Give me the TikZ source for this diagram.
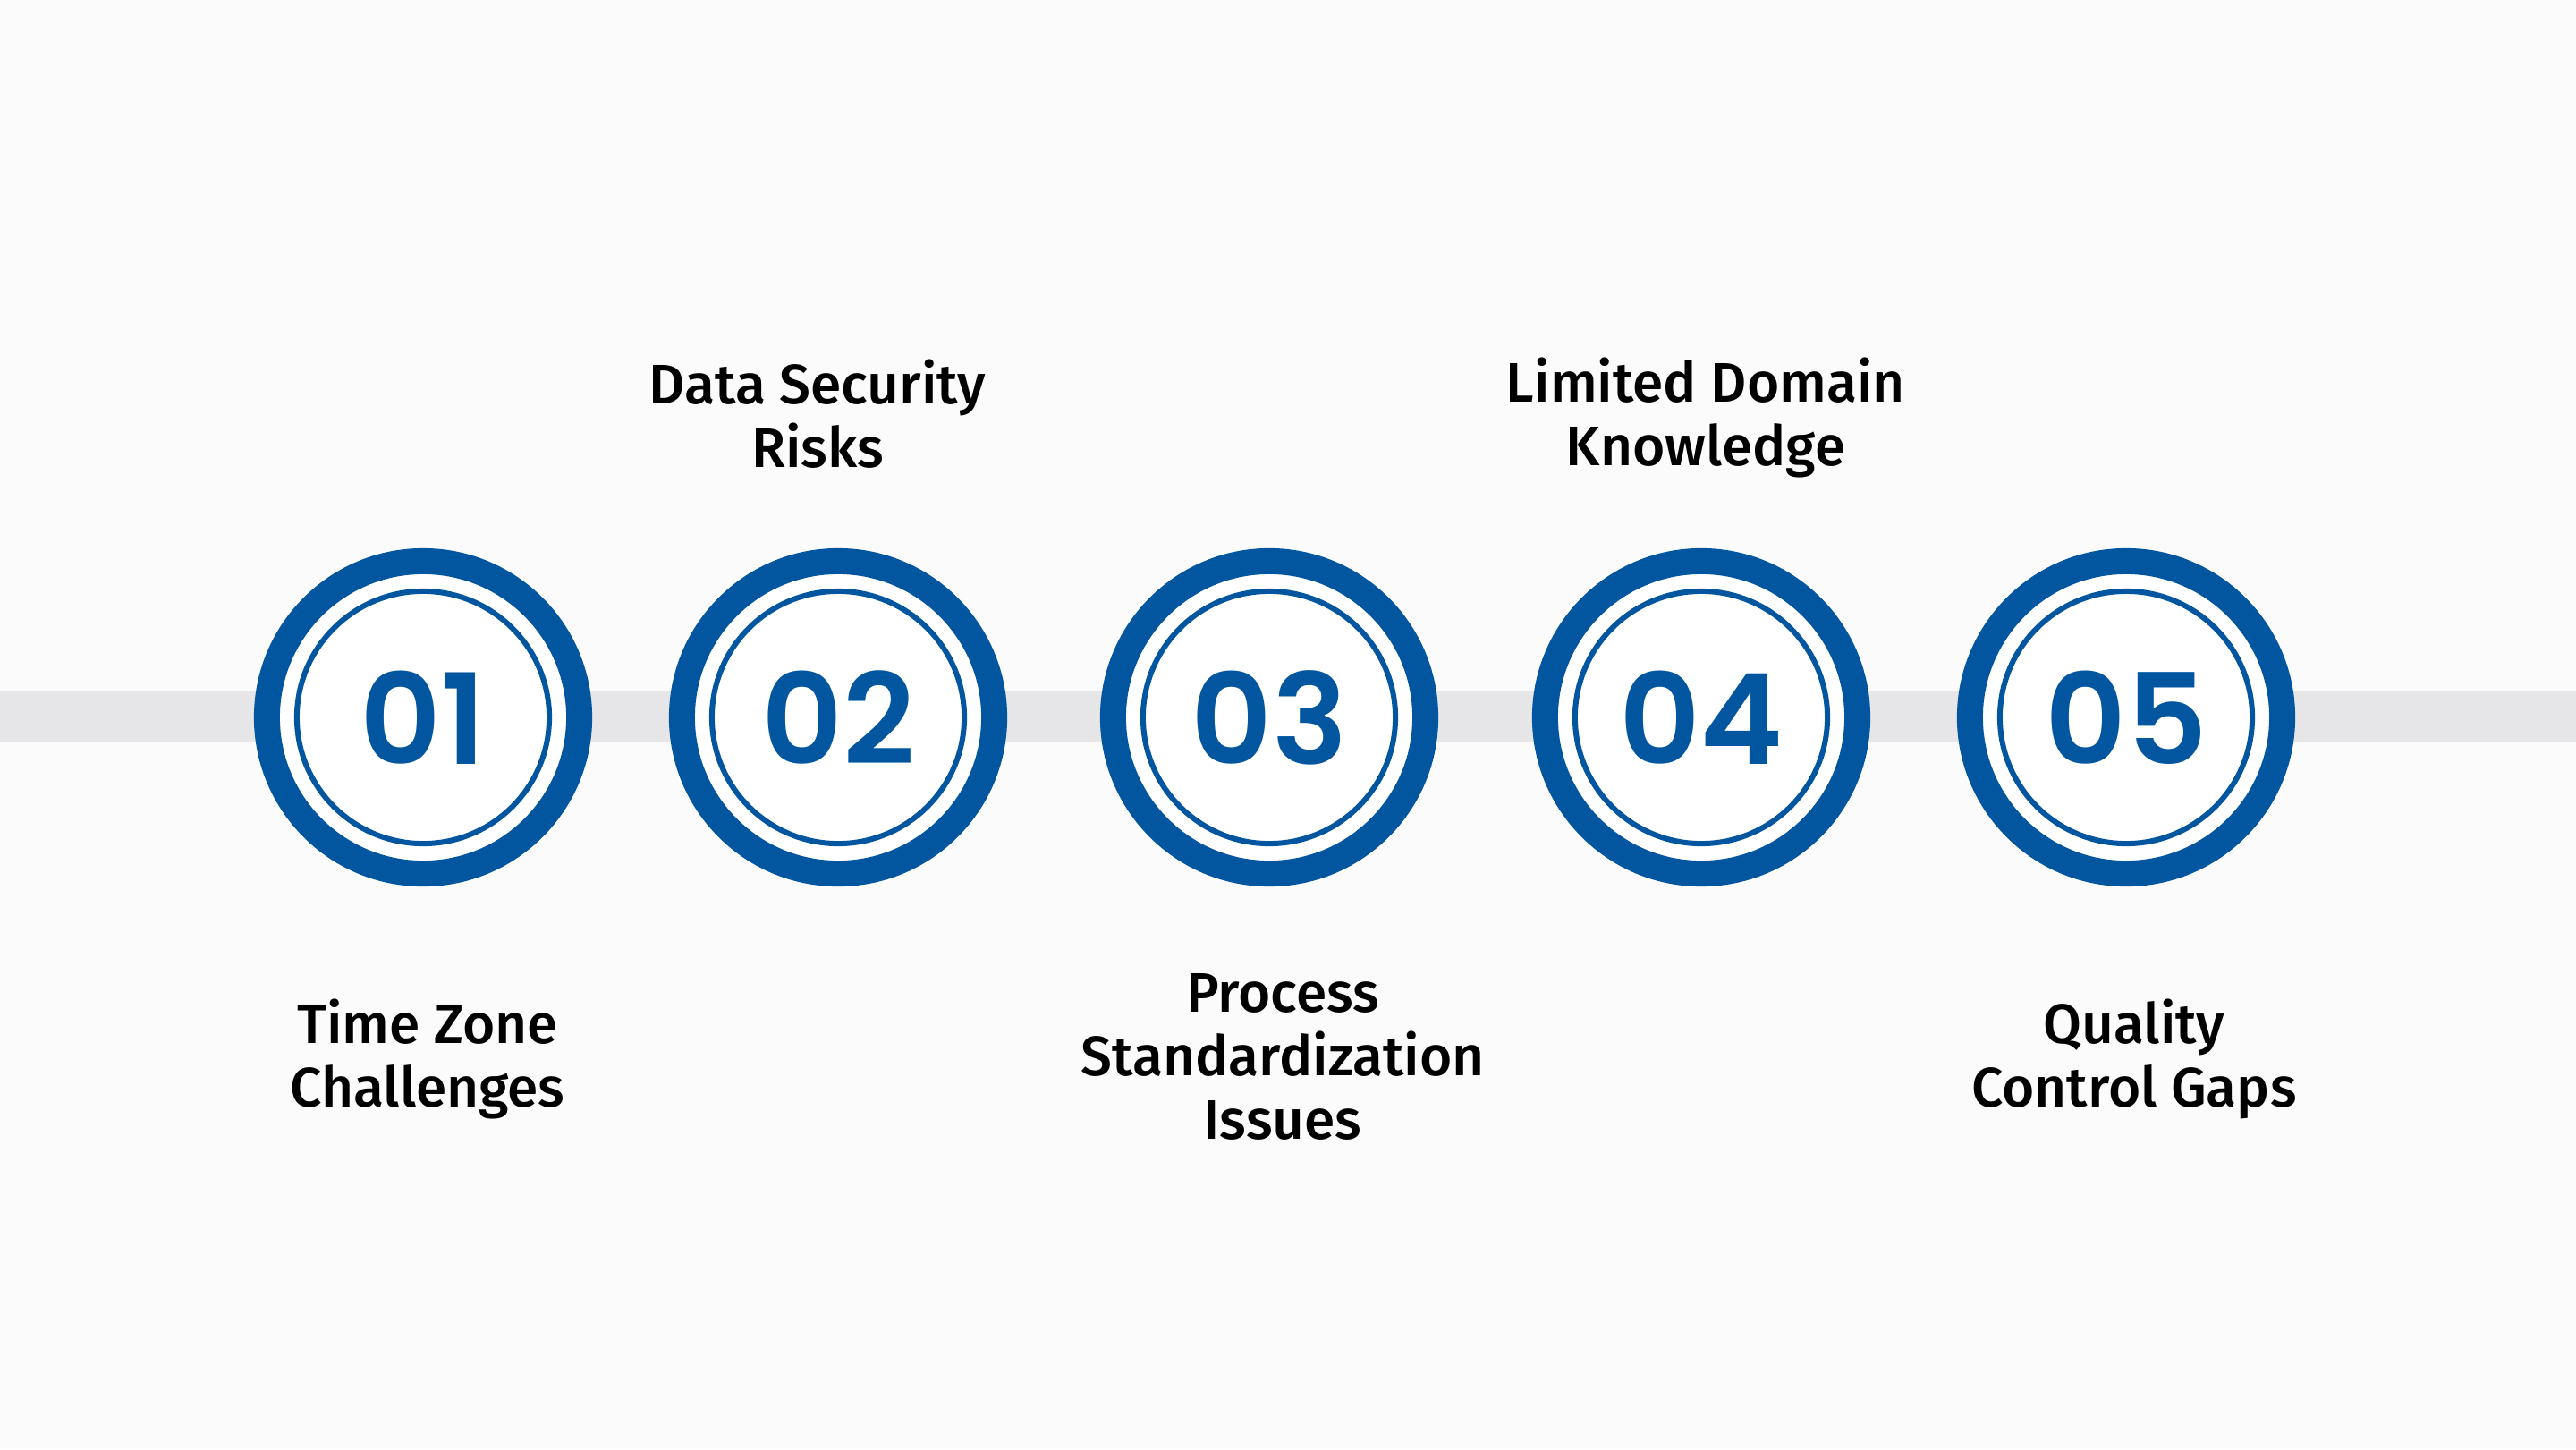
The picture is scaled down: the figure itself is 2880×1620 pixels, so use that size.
\documentclass[tikz,border=0pt]{standalone}
\usepackage{fontspec}
\setmainfont{Fira Sans}[BoldFont={Fira Sans Medium}]
\newfontfamily\numfont{Poppins}[BoldFont={Poppins SemiBold}]
\usepackage{tikz}
\definecolor{ringblue}{HTML}{02569F}
\definecolor{bandgrey}{HTML}{E6E5E8}
\definecolor{bggrey}{HTML}{FBFBFB}
\tikzstyle{ring}=[circle, draw=ringblue, line width=0.29cm, fill=white, minimum size=3.49cm, inner sep=0pt, text=ringblue, font=\numfont\bfseries\fontsize{40}{40}\selectfont]
\tikzstyle{thinring}=[draw=ringblue, line width=0.06cm]
\tikzstyle{band}=[draw=bandgrey, line width=0.55cm]
\tikzstyle{label}=[align=center, inner sep=0pt, font=\bfseries\fontsize{17.7}{20.2}\selectfont]

\begin{document}
\begin{tikzpicture}[x=0.01cm, y=-0.01cm]
		   \fill [bggrey] (0, 0) rectangle (2880, 1620);
		   \useasboundingbox (0, 0) rectangle (2880, 1620);
		   \begin{scope}
			   \coordinate (left) at (0, 801);
			   \coordinate (right) at (2880, 801);
			   \path [band] (left) edge (right);
		   \end{scope}
		   \begin{scope}
			   \node (c1) at (473, 802)[ring] {01};
			   \node (c2) at (937, 802)[ring] {02};
			   \node (c3) at (1419, 802)[ring] {03};
			   \node (c4) at (1902, 802)[ring] {04};
			   \node (c5) at (2377, 802)[ring] {05};
			   \foreach \n in {c1, c2, c3, c4, c5}
				   \draw [thinring] (\n.center) circle (1.41cm);
		   \end{scope}
		   \begin{scope}
			   \node (l1) at (478, 1184)[label] {Time Zone\\Challenges};
			   \node (l2) at (914, 463)[label] {Data Security\\Risks};
			   \node (l3) at (1434, 1181)[label] {Process\\Standardization\\Issues};
			   \node (l4) at (1907, 467)[label] {Limited Domain\\Knowledge};
			   \node (l5) at (2386, 1184)[label] {Quality\\Control Gaps};
		   \end{scope}
	   \end{tikzpicture}
\end{document}
